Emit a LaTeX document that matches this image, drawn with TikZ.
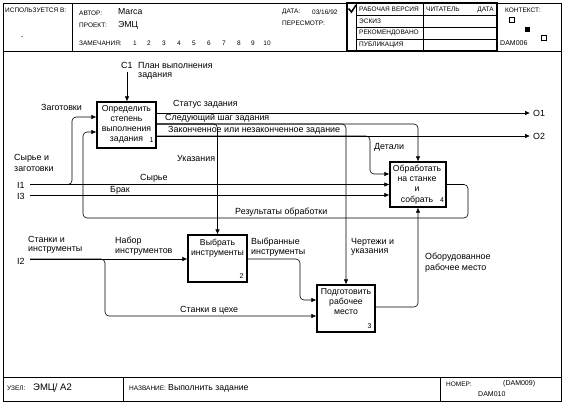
\documentclass[tikz,border=0pt]{standalone}
\usepackage{fontspec}
\setmainfont{Liberation Sans}
\usetikzlibrary{arrows.meta}
\begin{document}
\begin{tikzpicture}[x=1pt,y=-1pt,
  frame/.style={line width=0.8pt},
  box/.style={draw,line width=1.2pt,inner sep=0pt},
  conn/.style={line width=0.6pt,rounded corners=4pt},
  arr/.style={conn,-{Latex[length=5pt,width=4.5pt]}},
  lbl/.style={font=\fontsize{8.9}{10}\selectfont,inner sep=0pt,anchor=west,align=left},
  btxt/.style={font=\fontsize{8.7}{10.2}\selectfont,inner sep=0pt,align=center},
  bnum/.style={font=\fontsize{7}{8}\selectfont,inner sep=0pt},
  hd/.style={font=\fontsize{6.5}{7}\selectfont,inner sep=0pt,anchor=west},
  hv/.style={font=\fontsize{8.7}{9}\selectfont,inner sep=0pt,anchor=west},
]
\useasboundingbox (0,0) rectangle (564,406);
% frame
\draw[frame] (3,3) rectangle (561,401);
\draw[frame] (3,51) -- (561,51);
\draw[frame] (72,3) -- (72,51);
\draw[frame] (3,377) -- (561,377);
\draw[frame] (123,377) -- (123,401);
\draw[frame] (440,377) -- (440,401);
% status table
\draw[line width=1.1pt] (347,3) rectangle (497,51);
\draw[line width=0.7pt] (356,3) -- (356,51);
\draw[line width=0.7pt] (423,3) -- (423,51);
\draw[line width=0.7pt] (356,15) -- (497,15);
\draw[line width=0.7pt] (356,27) -- (497,27);
\draw[line width=0.7pt] (356,39) -- (497,39);
\draw[line width=1.5pt] (348.5,8.5) -- (351.5,12) -- (356,5);
% header texts
\node[hd] (uses) at (5,10) {ИСПОЛЬЗУЕТСЯ В:};
\node[hd] (dash) at (21,38) {-};
\node[hd] (avt) at (79,13) {АВТОР:};
\node[hv] (marca) at (118,12) {Marca};
\node[hd] (proj) at (79,25) {ПРОЕКТ:};
\node[hv] (emc) at (118,25) {ЭМЦ};
\node[hd] (zam) at (79,43) {ЗАМЕЧАНИЯ:};
\foreach \n/\xx in {1/135,2/149,3/164,4/179,5/194,6/209,7/224,8/239,9/253,10/267}
  \node[hd,anchor=center] (zn\n) at (\xx,43) {\n};
\node[hd] (data) at (282,12) {ДАТА:};
\node[hd] (datav) at (312,12) {03/16/92};
\node[hd] (peresm) at (282,23) {ПЕРЕСМОТР:};
\node[hd] (rv) at (359,9.5) {РАБОЧАЯ ВЕРСИЯ};
\node[hd] (chit) at (426,9.5) {ЧИТАТЕЛЬ};
\node[hd,anchor=east] (tdata) at (494,9.5) {ДАТА};
\node[hd] (esk) at (359,21) {ЭСКИЗ};
\node[hd] (rek) at (359,33) {РЕКОМЕНДОВАНО};
\node[hd] (pub) at (359,45) {ПУБЛИКАЦИЯ};
\node[hd] (kont) at (505,10) {КОНТЕКСТ:};
\draw[line width=0.6pt] (509,17.5) rectangle (514,22.5);
\fill (525,27.5) rectangle (530,32.5);
\draw[line width=0.6pt] (541,35.5) rectangle (546,40.5);
\node[font=\fontsize{7}{8}\selectfont,inner sep=0pt,anchor=west] (dam6) at (500,43) {DAM006};
% footer
\node[hd] (uzel) at (7,388) {УЗЕЛ:};
\node[font=\fontsize{9.5}{10}\selectfont,inner sep=0pt,anchor=west] (uzelv) at (33,388) {ЭМЦ/ A2};
\node[hd] (nazv) at (129,388) {НАЗВАНИЕ:};
\node[hv] (nazvv) at (168,388) {Выполнить задание};
\node[hd] (nomer) at (446,384) {НОМЕР:};
\node[font=\fontsize{7}{8}\selectfont,inner sep=0pt,anchor=west] (d9) at (503,384) {(DAM009)};
\node[font=\fontsize{7}{8}\selectfont,inner sep=0pt,anchor=west] (d10) at (478,394) {DAM010};
% boxes
\node[box,minimum width=59pt,minimum height=46pt] (b1) at (126.5,125) {};
\node[box,minimum width=59pt,minimum height=47pt] (b2) at (217.5,258.5) {};
\node[box,minimum width=58pt,minimum height=47pt] (b3) at (346,308.5) {};
\node[box,minimum width=56pt,minimum height=45pt] (b4) at (418,184.5) {};
\node[btxt] (b1t) at (126.5,124.5) {Определить\\степень\\выполнения\\задания};
\node[btxt] (b2t) at (217.5,248) {Выбрать\\инструменты};
\node[btxt] (b3t) at (346,301.5) {Подготовить\\рабочее\\место};
\node[btxt] (b4t) at (417,184.5) {Обработать\\на станке\\и\\собрать};
\node[bnum] (n1) at (151.5,140) {1};
\node[bnum] (n2) at (241.5,276) {2};
\node[bnum] (n3) at (369.5,326) {3};
\node[bnum] (n4) at (442,200.5) {4};
% coordinates
\coordinate (c1) at (127,72);
\coordinate (o1) at (530,113);
\coordinate (o2) at (530,136);
\coordinate (i1) at (30,184.5);
\coordinate (i3) at (30,195);
\coordinate (i2) at (30,259);
\coordinate (j1u) at (72,117);
\coordinate (j2d) at (105,316);
\coordinate (detd) at (370,174);
\coordinate (y124) at (0,124);
\coordinate (y132) at (0,132);
\coordinate (y307) at (0,307);
\coordinate (rr) at (468,218);
\coordinate (rl) at (83,218);
\coordinate (v1) at (300,300);
% connectors
\draw[arr] (c1) -- (c1 |- b1.north);
\draw[arr] (b1.east |- o1) -- (o1);
\draw[arr] (b1.east |- o2) -- (o2);
\draw[arr] (b1.east |- o2) -| (detd) -- (b4.west |- detd);
\draw[arr] (b1.east |- y124) -| (b4.north);
\draw[arr] (b1.east |- y124) -| (b2.north);
\draw[arr] (b1.east |- y124) -| (b3.north);
\draw[arr] (i1) -- (b4.west |- i1);
\draw[arr] (i1) -| (j1u) -- (b1.west |- j1u);
\draw[arr] (i3) -- (b4.west |- i3);
\draw[arr] (b4.east |- i1) -| (rr) -- (rl) |- (b1.west |- y132);
\draw[arr] (i2) -- (b2.west |- i2);
\draw[arr] (i2) -| (j2d) -- (b3.west |- j2d);
\draw[arr] (b2.east |- i2) -| (v1) -- (b3.west |- v1);
\draw[arr] (b3.east |- y307) -| (b4.south);
% labels
\node[lbl] (lc1) at (121,65) {C1};
\node[lbl] (lplan) at (138,65) {План выполнения};
\node[lbl] (lplan2) at (138,76) {задания};
\node[lbl] (lzag) at (41,107) {Заготовки};
\node[lbl] (lsz) at (14,158) {Сырье и};
\node[lbl] (lsz2) at (14,169) {заготовки};
\node[lbl] (li1) at (17,185) {I1};
\node[lbl] (li3) at (17,196) {I3};
\node[lbl] (li2) at (17,261) {I2};
\node[lbl] (lo1) at (533,113) {O1};
\node[lbl] (lo2) at (533,136) {O2};
\node[lbl] (lstat) at (173,104) {Статус задания};
\node[lbl] (lsled) at (165,118) {Следующий шаг задания};
\node[lbl] (lzak) at (168,130) {Законченное или незаконченное задание};
\node[lbl] (lukaz) at (177,158) {Указания};
\node[lbl] (lsyr) at (140,178) {Сырье};
\node[lbl] (lbrak) at (110,190) {Брак};
\node[lbl] (ldet) at (374,147) {Детали};
\node[lbl] (lres) at (235,212) {Результаты обработки};
\node[lbl] (lsi) at (28,239) {Станки и};
\node[lbl] (lsi2) at (28,250) {инструменты};
\node[lbl] (lnab) at (115,241) {Набор};
\node[lbl] (lnab2) at (115,252) {инструментов};
\node[lbl] (lvyb) at (251,242) {Выбранные};
\node[lbl] (lvyb2) at (251,253) {инструменты};
\node[lbl] (lstc) at (180,310) {Станки в цехе};
\node[lbl] (lcher) at (351,242) {Чертежи и};
\node[lbl] (lcher2) at (351,252) {указания};
\node[lbl] (lobor) at (425,257) {Оборудованное};
\node[lbl] (lobor2) at (425,268) {рабочее место};
\end{tikzpicture}
\end{document}
